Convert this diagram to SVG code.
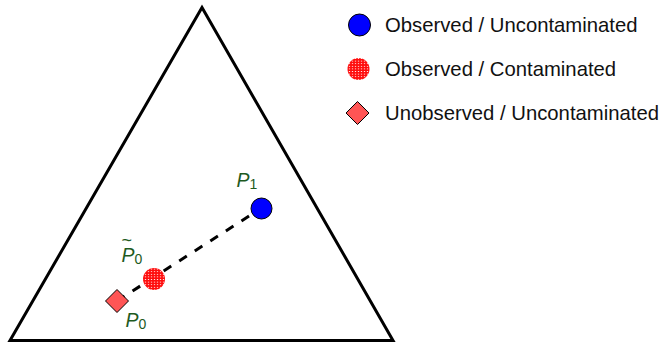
<svg xmlns="http://www.w3.org/2000/svg" width="664" height="342" viewBox="0 0 664 342">
<defs>
<pattern id="mesh" patternUnits="userSpaceOnUse" width="3" height="2.6">
<rect width="3" height="2.6" fill="#ff0d0d"/>
<ellipse cx="1.5" cy="1.3" rx="0.75" ry="0.45" fill="#ffffff"/>
</pattern>
<style>
.tri{fill:none;stroke:#000;stroke-width:3;stroke-linejoin:miter}
.blue{fill:#0000ff;stroke:#000;stroke-width:1}
.hatch{fill:url(#mesh);stroke:none}
.dia{fill:#ff5555;stroke:#000;stroke-width:1}
.leg{font-family:"Liberation Sans",Arial,sans-serif;font-size:20.3px;fill:#111}
.lab{font-family:"Liberation Sans",Arial,sans-serif;font-size:19.5px;fill:#1e5a1e}
.lab .p{font-style:italic}
.sub{font-size:14px}
.dash{fill:none;stroke:#000;stroke-width:3;stroke-dasharray:9 9.5}
</style>
</defs>
<rect width="664" height="342" fill="#fff"/>
<polygon id="simplex" class="tri" points="202,7.5 10,340.5 393,340.5"/>
<g id="connectors">
<line class="dash" x1="117" y1="301" x2="261.5" y2="208"/>
</g>
<g id="P1">
<circle class="blue" cx="261.5" cy="208.5" r="10.5"/>
<text class="lab" x="236.5" y="187"><tspan class="p">P</tspan><tspan class="sub" dx="0" dy="2">1</tspan></text>
</g>
<g id="P0tilde">
<circle class="hatch" cx="154" cy="279" r="11"/>
<text class="lab" x="121.5" y="262"><tspan class="p">P</tspan><tspan class="sub" dx="0" dy="2">0</tspan><tspan x="121.5" y="245.5" style="font-size:18px">~</tspan></text>
</g>
<g id="P0">
<polygon class="dia" points="117,289.5 128.5,301 117,312.5 105.5,301"/>
<text class="lab" x="125.5" y="327"><tspan class="p">P</tspan><tspan class="sub" dx="0" dy="2">0</tspan></text>
</g>
<g id="legend">
<g id="legend-observed-uncontaminated">
<circle class="blue" cx="359.5" cy="25" r="11"/>
<text class="leg" x="385" y="32">Observed / Uncontaminated</text>
</g>
<g id="legend-observed-contaminated">
<circle class="hatch" cx="358.5" cy="69" r="11"/>
<text class="leg" x="385" y="76">Observed / Contaminated</text>
</g>
<g id="legend-unobserved-uncontaminated">
<polygon class="dia" points="357.5,101.5 369,113 357.5,124.5 346,113"/>
<text class="leg" x="385" y="120">Unobserved / Uncontaminated</text>
</g>
</g>
</svg>
